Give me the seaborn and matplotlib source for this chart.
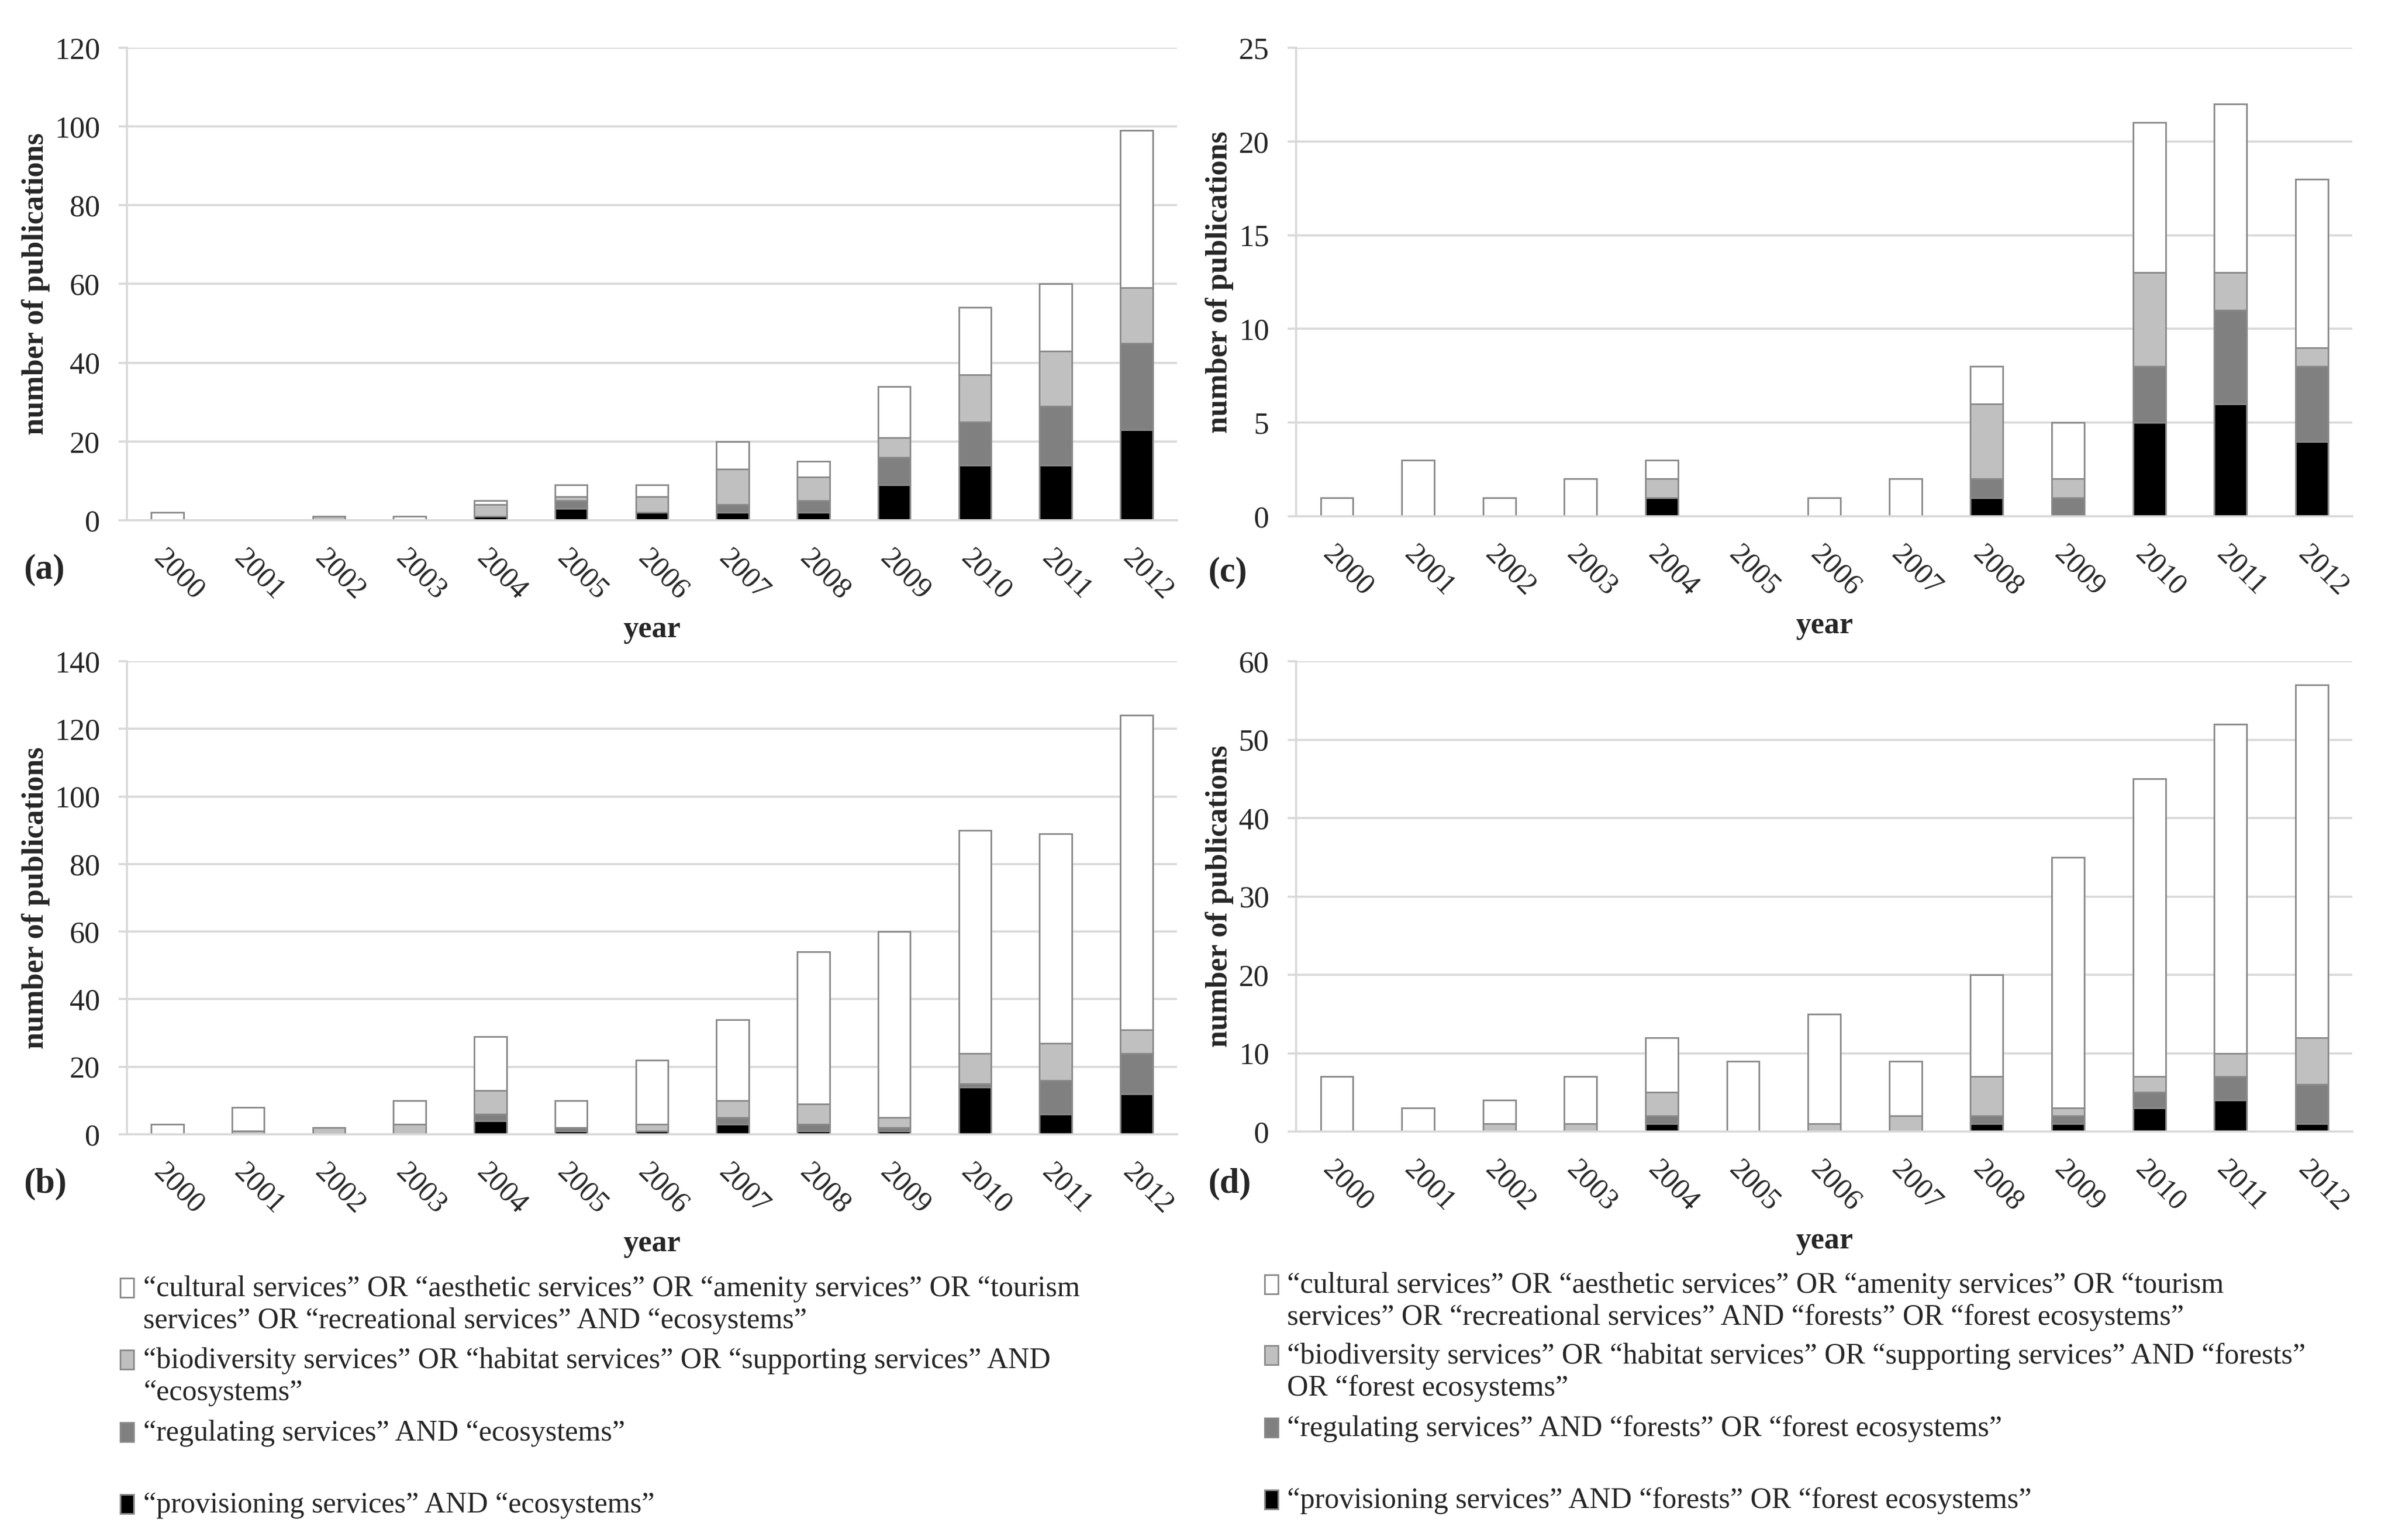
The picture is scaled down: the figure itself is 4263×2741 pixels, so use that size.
import matplotlib
matplotlib.use("Agg")
import matplotlib.pyplot as plt
from matplotlib.patches import Rectangle
from matplotlib.ticker import MultipleLocator
import pandas as pd
import seaborn as sns

years = list(range(2000, 2013))
categories = ["cultural", "biodiversity", "regulating", "provisioning"]
colors = {"cultural": "#ffffff", "biodiversity": "#c0c0c0",
          "regulating": "#808080", "provisioning": "#000000"}

# (a) ecosystems
a_cultural = [2, 0, 0, 1, 1, 3, 3, 7, 4, 13, 17, 17, 40]
a_biodiversity = [0, 0, 1, 0, 3, 1, 4, 9, 6, 5, 12, 14, 14]
a_regulating = [0, 0, 0, 0, 0, 2, 0, 2, 3, 7, 11, 15, 22]
a_provisioning = [0, 0, 0, 0, 1, 3, 2, 2, 2, 9, 14, 14, 23]

# (b) ecosystems
b_cultural = [3, 7, 0, 7, 16, 8, 19, 24, 45, 55, 66, 62, 93]
b_biodiversity = [0, 1, 2, 3, 7, 0, 2, 5, 6, 3, 9, 11, 7]
b_regulating = [0, 0, 0, 0, 2, 1, 0, 2, 2, 1, 1, 10, 12]
b_provisioning = [0, 0, 0, 0, 4, 1, 1, 3, 1, 1, 14, 6, 12]

# (c) forests
c_cultural = [1, 3, 1, 2, 1, 0, 1, 2, 2, 3, 8, 9, 9]
c_biodiversity = [0, 0, 0, 0, 1, 0, 0, 0, 4, 1, 5, 2, 1]
c_regulating = [0, 0, 0, 0, 0, 0, 0, 0, 1, 1, 3, 5, 4]
c_provisioning = [0, 0, 0, 0, 1, 0, 0, 0, 1, 0, 5, 6, 4]

# (d) forests
d_cultural = [7, 3, 3, 6, 7, 9, 14, 7, 13, 32, 38, 42, 45]
d_biodiversity = [0, 0, 1, 1, 3, 0, 1, 2, 5, 1, 2, 3, 6]
d_regulating = [0, 0, 0, 0, 1, 0, 0, 0, 1, 1, 2, 3, 5]
d_provisioning = [0, 0, 0, 0, 1, 0, 0, 0, 1, 1, 3, 4, 1]

legend_eco = [
    "\u201ccultural services\u201d OR \u201caesthetic services\u201d OR \u201camenity services\u201d OR \u201ctourism\n"
    "services\u201d OR \u201crecreational services\u201d AND \u201cecosystems\u201d",
    "\u201cbiodiversity services\u201d OR \u201chabitat services\u201d OR \u201csupporting services\u201d AND\n"
    "\u201cecosystems\u201d",
    "\u201cregulating services\u201d AND \u201cecosystems\u201d",
    "\u201cprovisioning services\u201d AND \u201cecosystems\u201d",
]
legend_forest = [
    "\u201ccultural services\u201d OR \u201caesthetic services\u201d OR \u201camenity services\u201d OR \u201ctourism\n"
    "services\u201d OR \u201crecreational services\u201d AND \u201cforests\u201d OR \u201cforest ecosystems\u201d",
    "\u201cbiodiversity services\u201d OR \u201chabitat services\u201d OR \u201csupporting services\u201d AND \u201cforests\u201d\n"
    "OR \u201cforest ecosystems\u201d",
    "\u201cregulating services\u201d AND \u201cforests\u201d OR \u201cforest ecosystems\u201d",
    "\u201cprovisioning services\u201d AND \u201cforests\u201d OR \u201cforest ecosystems\u201d",
]

sns.set_style("white")
plt.rcParams["font.family"] = ["Liberation Serif", "DejaVu Serif"]

grid_col = "#d9d9d9"
W, H = 4263, 2741
fig = plt.figure(figsize=(W / 300, H / 300), dpi=300)


def long_df(cult, bio, reg, prov):
    rows = []
    for cat, vals in zip(categories, [cult, bio, reg, prov]):
        for y, v in zip(years, vals):
            rows.append({"year": y, "category": cat, "count": v})
    return pd.DataFrame(rows)


panels = [
    # rect (left, bottom, width, height), data, ymax, step, tag, tag pos, ylabel offset px
    ((0.0530, 0.6622, 0.4384, 0.3068), long_df(a_cultural, a_biodiversity, a_regulating, a_provisioning),
     120, 20, "(a)", (0.0099, 0.630), 137),
    ((0.5412, 0.6647, 0.4410, 0.3043), long_df(c_cultural, c_biodiversity, c_regulating, c_provisioning),
     25, 5, "(c)", (0.5045, 0.628), 111),
    ((0.0530, 0.2634, 0.4384, 0.3072), long_df(b_cultural, b_biodiversity, b_regulating, b_provisioning),
     140, 20, "(b)", (0.0099, 0.231), 137),
    ((0.5412, 0.2652, 0.4410, 0.3054), long_df(d_cultural, d_biodiversity, d_regulating, d_provisioning),
     60, 10, "(d)", (0.5045, 0.231), 111),
]

for rect, df, ymax, step, tag, tagpos, yoff in panels:
    ax = fig.add_axes(rect)
    sns.histplot(data=df, x="year", weights="count", hue="category",
                 hue_order=categories, multiple="stack", discrete=True,
                 shrink=0.4, palette=colors, alpha=1, edgecolor="#8a8a8a",
                 linewidth=0.7, legend=False, ax=ax)
    ax.set_xlim(1999.5, 2012.5)
    ax.set_ylim(0, ymax)
    ax.yaxis.set_major_locator(MultipleLocator(step))
    ax.grid(axis="y", color=grid_col, linewidth=0.9)
    ax.grid(axis="x", visible=False)
    ax.set_axisbelow(True)
    for s in ["top", "right"]:
        ax.spines[s].set_visible(False)
    for s in ["left", "bottom"]:
        ax.spines[s].set_color(grid_col)
        ax.spines[s].set_linewidth(0.9)

    ax.set_xticks(years)
    ax.set_xticks([y - 0.5 for y in years] + [years[-1] + 0.5], minor=True)
    ax.tick_params(axis="x", which="major", length=0, pad=10.5, labelsize=12.5)
    ax.tick_params(axis="x", which="minor", length=4, width=0.9, color=grid_col, direction="out")
    ax.tick_params(axis="y", length=3.5, width=0.9, color=grid_col, pad=8, labelsize=13, left=True)
    ax.set_xticklabels([str(y) for y in years])
    for lab in ax.get_xticklabels():
        lab.set_rotation(-45)
        lab.set_ha("left")
        lab.set_va("top")
        lab.set_rotation_mode("anchor")

    ax_w = rect[2] * W
    ax_h = rect[3] * H
    ax.set_ylabel("number of publications", fontsize=13, fontweight="bold")
    ax.yaxis.set_label_coords(-yoff / ax_w, 0.5)
    ax.set_xlabel("year", fontsize=13, fontweight="bold")
    ax.xaxis.set_label_coords(0.5, -170 / ax_h)
    fig.text(tagpos[0], tagpos[1], tag, fontsize=15, fontweight="bold",
             ha="left", va="center")


# legends drawn as text rows under each column
def draw_legend(labels, sq_x, txt_x, centers_px):
    sq_w, sq_h = 24 / W, 34 / H
    for lab, cat, cy in zip(labels, categories, centers_px):
        yc = 1 - (cy - 12) / H
        fig.patches.append(Rectangle((sq_x, yc - sq_h / 2), sq_w, sq_h,
                                     transform=fig.transFigure,
                                     facecolor=colors[cat], edgecolor="#8a8a8a",
                                     linewidth=0.7))
        fig.text(txt_x, 1 - (cy - 34) / H, lab, fontsize=12.5, ha="left",
                 va="top", linespacing=1.25)


draw_legend(legend_eco, 214 / W, 255 / W, [2304, 2432, 2561, 2689])
draw_legend(legend_forest, 2251 / W, 2291 / W, [2298, 2424, 2553, 2681])

fig.savefig("out.png", dpi=300, facecolor="white")
